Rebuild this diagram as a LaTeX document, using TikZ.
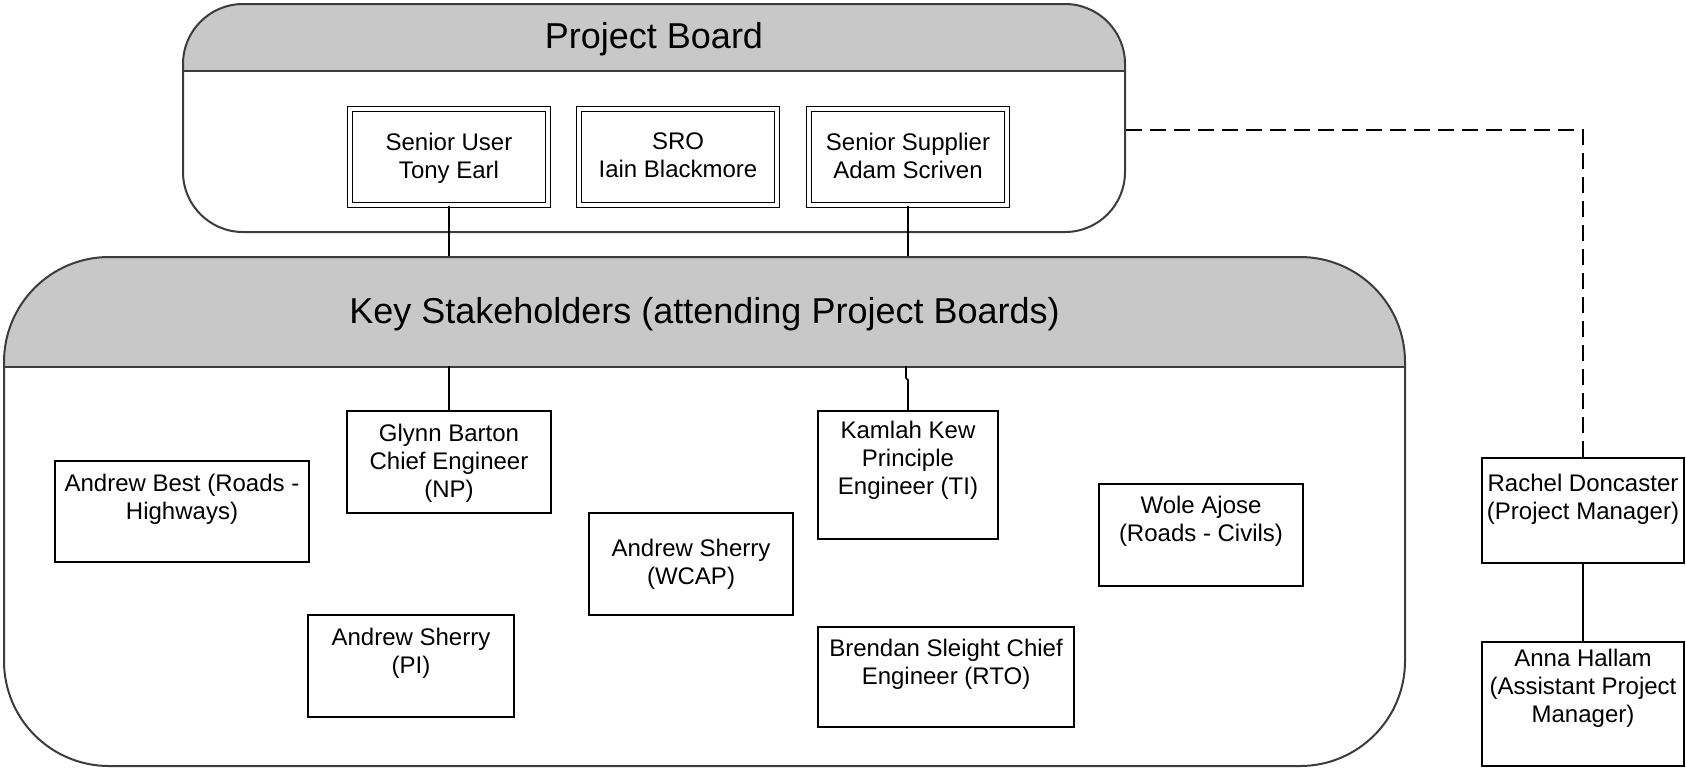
\documentclass[tikz,border=0pt]{standalone}
\usepackage{fontspec}
\setmainfont{Liberation Sans}
\usetikzlibrary{calc}
\definecolor{hdrgrey}{RGB}{200,200,200}
\definecolor{rimgrey}{RGB}{60,60,60}

\tikzset{
  % rounded container with a grey title band of height #2
  container/.style 2 args={draw=rimgrey, line width=1pt, rounded corners=#1,
    inner sep=0pt, fill=white,
    path picture={
      \fill[hdrgrey, sharp corners] (path picture bounding box.north west)
        rectangle ([yshift=-#2]path picture bounding box.north east);
      \draw[rimgrey, line width=1.2pt, sharp corners]
        ([yshift=-#2]path picture bounding box.north west)
        -- ([yshift=-#2]path picture bounding box.north east);}},
  boardbox/.style={draw=black, double=white, double distance=2pt, line width=0.7pt,
    inner sep=0pt, minimum width=99pt, minimum height=48pt},
  person/.style={draw=black, line width=0.9pt, fill=white, inner sep=0pt},
  title/.style={anchor=base, inner sep=0pt, font=\fontsize{18pt}{21pt}\selectfont},
  txt/.style={anchor=north, align=center, inner sep=0pt,
    font=\fontsize{12pt}{14pt}\selectfont,
    execute at begin node={\rule{0pt}{9pt}}},
  conn/.style={draw=black, line width=0.8pt},
  dashconn/.style={conn, dash pattern=on 8pt off 4pt},
}

\begin{document}
\begin{tikzpicture}[x=0.5pt, y=-0.5pt]
\useasboundingbox (0,0) rectangle (1686,768);

% ---- Project Board ----
\node[container={30pt}{33.5pt}, minimum width=471pt, minimum height=114pt] (pb) at (654,118) {};
\node[title] (pbt) at (654,48) {Project Board};

\node[boardbox] (su)  at (449,157) {};
\node[txt] (su-t) at (449,132.5) {Senior User\\Tony Earl};
\node[boardbox] (sro) at (678,157) {};
\node[txt] (sro-t) at (678,132.5) {SRO\\Iain Blackmore};
\node[boardbox] (ss)  at (908,157) {};
\node[txt] (ss-t) at (908,132.5) {Senior Supplier\\Adam Scriven};

% ---- Key Stakeholders ----
\node[container={52.5pt}{55pt}, minimum width=700.5pt, minimum height=254.5pt] (ks) at (704.5,511.5) {};
\node[title] (kst) at (704.5,323) {Key Stakeholders (attending Project Boards)};
\coordinate (kshead) at ([yshift=-55pt]ks.north);

\node[person, minimum width=127pt, minimum height=50.5pt] (best) at (182,511.5) {};
\node[txt] (best-t) at (182,473.5) {Andrew Best (Roads -\\Highways)};

\node[person, minimum width=102pt, minimum height=51pt] (glynn) at (449,462) {};
\node[txt] (glynn-t) at (449,423.5) {Glynn Barton\\Chief Engineer\\(NP)};

\node[person, minimum width=103pt, minimum height=51pt] (sherrypi) at (411,666) {};
\node[txt] (sherrypi-t) at (411,627.5) {Andrew Sherry\\(PI)};

\node[person, minimum width=102pt, minimum height=51pt] (wcap) at (691,564) {};
\node[txt] (wcap-t) at (691,538.5) {Andrew Sherry\\(WCAP)};

\node[person, minimum width=90pt, minimum height=64pt] (kamlah) at (908,475) {};
\node[txt] (kamlah-t) at (908,420.5) {Kamlah Kew\\Principle\\Engineer (TI)};

\node[person, minimum width=128pt, minimum height=50pt] (brendan) at (946,677) {};
\node[txt] (brendan-t) at (946,638.5) {Brendan Sleight Chief\\Engineer (RTO)};

\node[person, minimum width=102pt, minimum height=51pt] (wole) at (1201,535) {};
\node[txt] (wole-t) at (1201,495.5) {Wole Ajose\\(Roads - Civils)};

% ---- Project management ----
\node[person, minimum width=101pt, minimum height=52.5pt] (rachel) at (1583,510.5) {};
\node[txt] (rachel-t) at (1583,473.5) {Rachel Doncaster\\(Project Manager)};

\node[person, minimum width=101pt, minimum height=62pt] (anna) at (1583,704) {};
\node[txt] (anna-t) at (1583,648.5) {Anna Hallam\\(Assistant Project\\Manager)};

% ---- connectors ----
\draw[conn] (su.south) -- (su.south |- ks.north);
\draw[conn] (ss.south) -- (ss.south |- ks.north);
\draw[conn] (glynn.north |- kshead) -- (glynn.north);
\draw[conn] ([xshift=-1pt]kamlah.north |- kshead) -- ++(0,12) -- ++(2,2) -- (kamlah.north);
\draw[dashconn] ([yshift=-6pt]pb.east) -| (rachel.north);
\draw[conn] (rachel.south) -- (anna.north);
\end{tikzpicture}
\end{document}
